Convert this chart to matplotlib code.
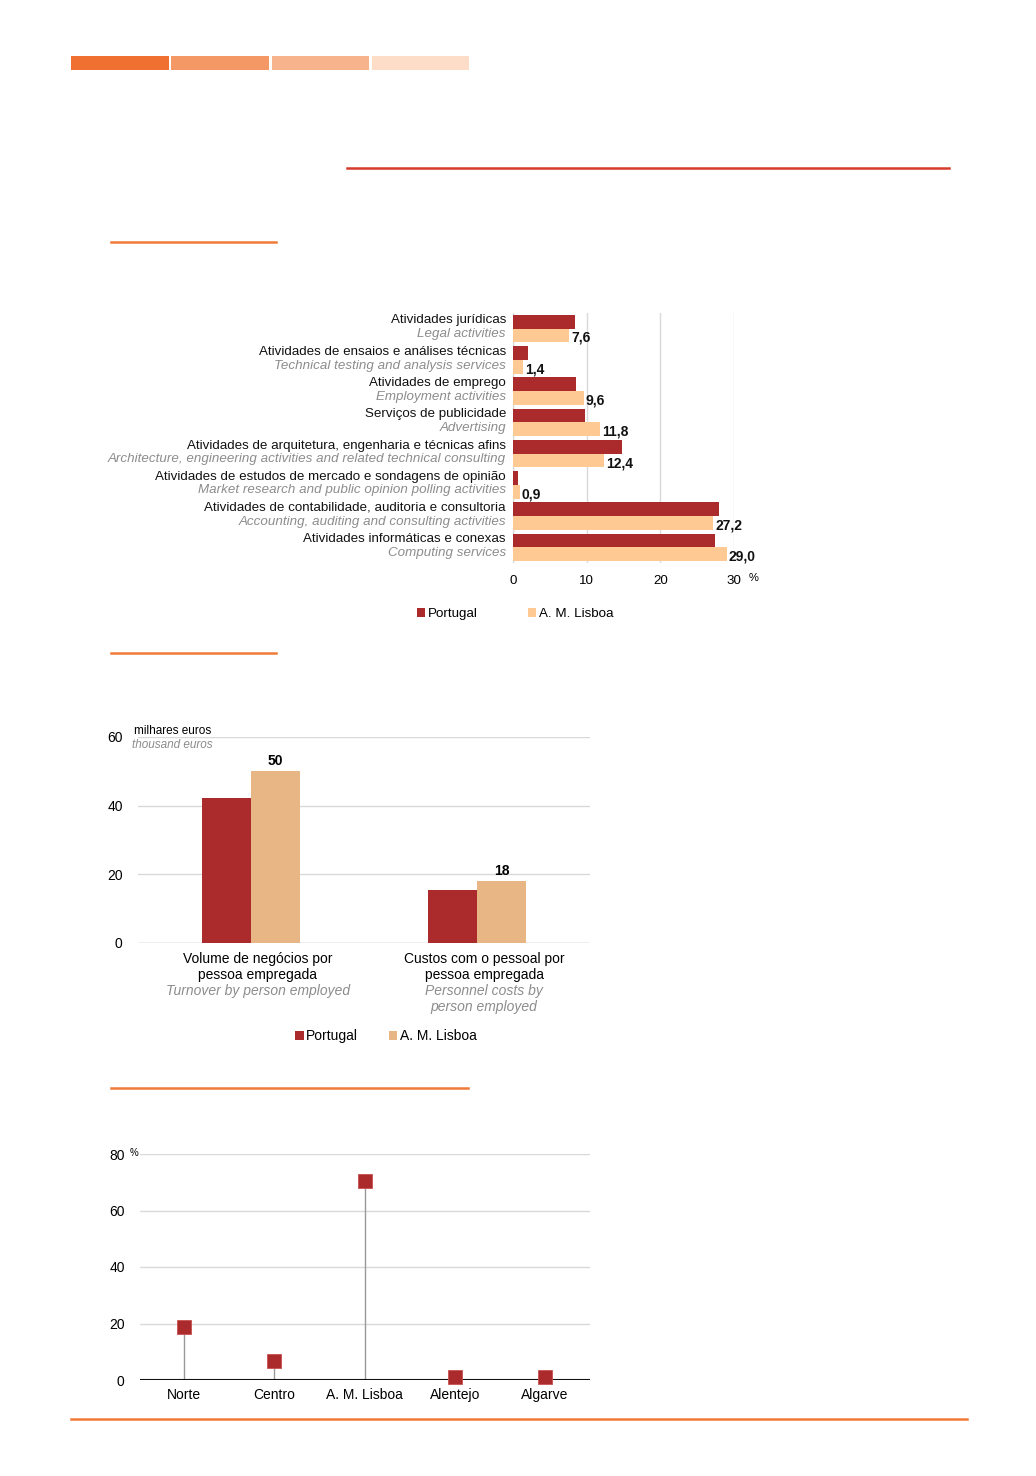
import numpy as np
import matplotlib
matplotlib.use("Agg")
import matplotlib.pyplot as plt
from matplotlib.patches import Rectangle
from matplotlib.lines import Line2D

plt.rcParams['font.family'] = ['Liberation Sans', 'DejaVu Sans']
plt.rcParams['font.size'] = 10

W, H = 1036, 1476

# ---- data ----
act_pt = ["Atividades jurídicas",
          "Atividades de ensaios e análises técnicas",
          "Atividades de emprego",
          "Serviços de publicidade",
          "Atividades de arquitetura, engenharia e técnicas afins",
          "Atividades de estudos de mercado e sondagens de opinião",
          "Atividades de contabilidade, auditoria e consultoria",
          "Atividades informáticas e conexas"]
act_en = ["Legal activities",
          "Technical testing and analysis services",
          "Employment activities",
          "Advertising",
          "Architecture, engineering activities and related technical consulting",
          "Market research and public opinion polling activities",
          "Accounting, auditing and consulting activities",
          "Computing services"]
act_portugal = [8.4, 2.0, 8.6, 9.8, 14.8, 0.7, 28.0, 27.4]
act_lisboa = [7.6, 1.4, 9.6, 11.8, 12.4, 0.9, 27.2, 29.0]
act_labels = ["7,6", "1,4", "9,6", "11,8", "12,4", "0,9", "27,2", "29,0"]

ind_pt = ["Volume de negócios por\npessoa empregada",
          "Custos com o pessoal por\npessoa empregada"]
ind_en = ["Turnover by person employed",
          "Personnel costs by\nperson employed"]
ind_portugal = [42.3, 15.4]
ind_lisboa = [50, 18]
ind_labels = ["50", "18"]

regions = ["Norte", "Centro", "A. M. Lisboa", "Alentejo", "Algarve"]
region_share = [18.8, 6.7, 70.4, 1.1, 1.1]

RED = "#AB2A2B"
PEACH1 = "#FFC993"
PEACH2 = "#E8B584"
GRID = "#D9D9D9"
GRAYTXT = "#8C8C8C"


def rect(l, t, r, b):
    return [l / W, 1 - b / H, (r - l) / W, (b - t) / H]


def fx(x):
    return x / W


def fy(y):
    return 1 - y / H


fig = plt.figure(figsize=(W / 100, H / 100), dpi=100)

# ---- page decorations ----
for (x0, x1), c in zip([(71, 169), (171, 269), (272, 369), (372, 469)],
                       ["#EF7030", "#F49866", "#F7B48C", "#FDDCC8"]):
    fig.add_artist(Rectangle((fx(x0), fy(70)), (x1 - x0) / W, 14 / H,
                             transform=fig.transFigure, color=c, lw=0))
fig.add_artist(Line2D([fx(347), fx(949)], [fy(168), fy(168)], color="#D63C2E", lw=1.8))
for x0, x1, y in [(111, 276, 242), (111, 276, 653), (111, 468, 1088), (71, 967, 1419)]:
    fig.add_artist(Line2D([fx(x0), fx(x1)], [fy(y), fy(y)], color="#F07A3A", lw=1.8))

# ---- chart 1: horizontal bars ----
F1 = 9.6
ax1 = fig.add_axes(rect(513, 313, 734, 563))
y = np.arange(len(act_pt))
h = 0.44
b_pt = ax1.barh(y - h / 2, act_portugal, height=h, color=RED, label="Portugal", zorder=3)
b_lx = ax1.barh(y + h / 2, act_lisboa, height=h, color=PEACH1, label="A. M. Lisboa", zorder=3)
ax1.set_xlim(0, 30)
ax1.set_ylim(len(act_pt) - 0.5, -0.5)
ax1.set_xticks([0, 10, 20, 30])
ax1.set_yticks([])
ax1.grid(axis='x', color=GRID, lw=1, zorder=0)
ax1.tick_params(axis='x', length=0, pad=9, labelsize=F1)
for s in ax1.spines.values():
    s.set_visible(False)
ax1.axvline(0, color=GRID, lw=1, zorder=0)
trans1 = matplotlib.transforms.blended_transform_factory(ax1.transAxes, ax1.transData)
for i in range(len(act_pt)):
    ax1.text(-0.032, i - 0.26, act_pt[i], transform=trans1, ha='right', va='center',
             fontsize=F1, color="#111111")
    ax1.text(-0.032, i + 0.18, act_en[i], transform=trans1, ha='right', va='center',
             fontsize=F1, color=GRAYTXT, style='italic')
    ax1.text(act_lisboa[i] + 0.3, i + 0.3, act_labels[i], ha='left', va='center',
             fontsize=10, fontweight='bold', color="#111111")
fig.text(fx(749), fy(578), "%", fontsize=8, ha='left', va='center')
fig.legend(handles=[b_pt, b_lx], loc='center', bbox_to_anchor=(fx(515), fy(614)),
           ncol=2, frameon=False, handlelength=0.6, handleheight=0.6,
           handletextpad=0.2, columnspacing=3.8, fontsize=F1)

# ---- chart 2: grouped columns ----
ax2 = fig.add_axes(rect(138, 737, 590, 943))
x = np.arange(len(ind_pt))
w = 0.217
c_pt = ax2.bar(x - w / 2, ind_portugal, width=w, color=RED, label="Portugal", zorder=3)
c_lx = ax2.bar(x + w / 2, ind_lisboa, width=w, color=PEACH2, label="A. M. Lisboa", zorder=3)
ax2.set_xlim(-0.5, 1.5)
ax2.set_ylim(0, 60)
ax2.set_yticks([0, 20, 40, 60])
ax2.set_xticks([])
ax2.grid(axis='y', color=GRID, lw=1, zorder=0)
ax2.tick_params(axis='y', length=0, pad=11, labelsize=10)
for s in ax2.spines.values():
    s.set_visible(False)
ax2.axhline(0, color="#CFCFCF", lw=1, zorder=1)
for i in range(len(ind_pt)):
    ax2.text(x[i] + w / 2, ind_lisboa[i] + 0.9, ind_labels[i], ha='center', va='bottom',
             fontsize=10, fontweight='bold')
    ax2.annotate(ind_pt[i], xy=(x[i], 0), xycoords=('data', 'axes fraction'),
                 xytext=(7, -9), textcoords='offset pixels', ha='center', va='top',
                 fontsize=10, linespacing=1.15)
    ax2.annotate(ind_en[i], xy=(x[i], 0), xycoords=('data', 'axes fraction'),
                 xytext=(7, -41), textcoords='offset pixels', ha='center', va='top',
                 fontsize=10, linespacing=1.15, color=GRAYTXT, style='italic')
fig.text(fx(134), fy(731), "milhares euros", fontsize=8.5, ha='left', va='center')
fig.text(fx(132), fy(745), "thousand euros", fontsize=8.5, ha='left', va='center',
         color=GRAYTXT, style='italic')
fig.legend(handles=[c_pt, c_lx], loc='center', bbox_to_anchor=(fx(386), fy(1036)),
           ncol=2, frameon=False, handlelength=0.6, handleheight=0.6,
           handletextpad=0.2, columnspacing=2.2, fontsize=10)

# ---- chart 3: lollipop ----
ax3 = fig.add_axes(rect(140, 1154, 590, 1380))
xr = np.arange(len(regions))
ax3.vlines(xr, 0, region_share, color="#999999", lw=1, zorder=2)
ax3.plot(xr, region_share, 's', color=RED, markersize=10, markeredgecolor="#C85050",
         markeredgewidth=0.6, zorder=4, clip_on=False)
ax3.set_xlim(-0.49, 4.5)
ax3.set_ylim(0, 80)
ax3.set_yticks([0, 20, 40, 60, 80])
ax3.set_xticks(xr)
ax3.set_xticklabels(regions)
ax3.grid(axis='y', color=GRID, lw=1, zorder=0)
ax3.tick_params(axis='y', length=0, pad=11, labelsize=10)
ax3.tick_params(axis='x', length=0, pad=6, labelsize=10)
for s in ax3.spines.values():
    s.set_visible(False)
ax3.axhline(0, color="#111111", lw=1.5, zorder=3)
fig.text(fx(130), fy(1153), "%", fontsize=7, ha='left', va='center')

fig.savefig("out.png", dpi=100)
